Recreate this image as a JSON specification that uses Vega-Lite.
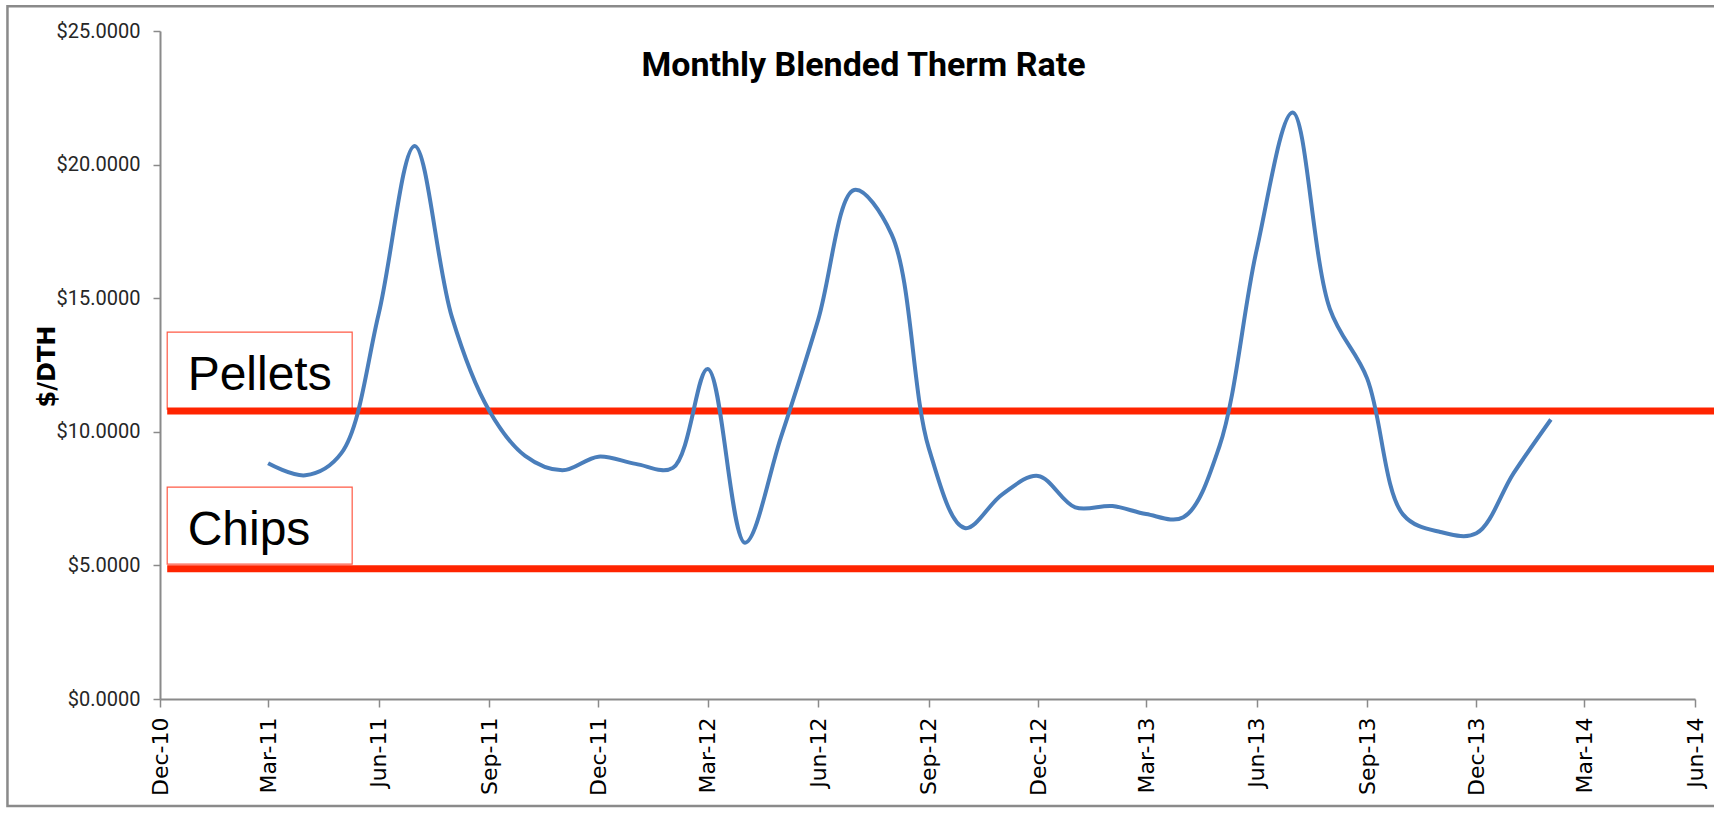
{
  "$schema": "https://vega.github.io/schema/vega-lite/v6.json",
  "width": 1535,
  "height": 668,
  "autosize": {"type": "none"},
  "padding": {"left": 160, "top": 31, "right": 19, "bottom": 116},
  "background": "white",
  "config": {"view": {"stroke": null}, "axis": {"grid": false}},
  "title": {
    "text": "Monthly Blended Therm Rate",
    "font": "Roboto",
    "fontSize": 34,
    "fontWeight": "bold",
    "color": "black",
    "anchor": "middle",
    "frame": "group",
    "dx": -64,
    "dy": 62,
    "offset": -43,
    "baseline": "alphabetic"
  },
  "data": {
    "values": [
      {"month": "2011/03/01", "rate": 8.82},
      {"month": "2011/04/01", "rate": 8.37},
      {"month": "2011/05/01", "rate": 9.2},
      {"month": "2011/06/01", "rate": 14.4},
      {"month": "2011/07/01", "rate": 20.7},
      {"month": "2011/08/01", "rate": 14.3},
      {"month": "2011/09/01", "rate": 10.8},
      {"month": "2011/10/01", "rate": 9.1},
      {"month": "2011/11/01", "rate": 8.56},
      {"month": "2011/12/01", "rate": 9.07},
      {"month": "2012/01/01", "rate": 8.8},
      {"month": "2012/02/01", "rate": 8.65},
      {"month": "2012/03/01", "rate": 12.35},
      {"month": "2012/04/01", "rate": 5.85},
      {"month": "2012/05/01", "rate": 9.8},
      {"month": "2012/06/01", "rate": 14.2},
      {"month": "2012/07/01", "rate": 19.05},
      {"month": "2012/08/01", "rate": 17.4},
      {"month": "2012/09/01", "rate": 9.4},
      {"month": "2012/10/01", "rate": 6.4},
      {"month": "2012/11/01", "rate": 7.65},
      {"month": "2012/12/01", "rate": 8.35},
      {"month": "2013/01/01", "rate": 7.17},
      {"month": "2013/02/01", "rate": 7.22},
      {"month": "2013/03/01", "rate": 6.92},
      {"month": "2013/04/01", "rate": 6.8},
      {"month": "2013/05/01", "rate": 9.45},
      {"month": "2013/06/01", "rate": 16.8},
      {"month": "2013/07/01", "rate": 21.95},
      {"month": "2013/08/01", "rate": 14.6},
      {"month": "2013/09/01", "rate": 12.0},
      {"month": "2013/10/01", "rate": 6.9},
      {"month": "2013/11/01", "rate": 6.25},
      {"month": "2013/12/01", "rate": 6.2},
      {"month": "2014/01/01", "rate": 8.45},
      {"month": "2014/02/01", "rate": 10.46}
    ]
  },
  "layer": [
    {
      "data": {"values": [{}]},
      "mark": {"type": "rect", "fillOpacity": 0, "stroke": "#8a8a8a", "strokeWidth": 2.5},
      "encoding": {
        "x": {"datum": {"year": 2010, "month": 7, "date": 27}, "type": "temporal"},
        "x2": {"datum": {"year": 2014, "month": 9, "date": 1}},
        "y": {"datum": 25.93, "type": "quantitative"},
        "y2": {"datum": -4}
      }
    },
    {
      "data": {"values": [{"label": "Pellets", "top": 13.73, "bottom": 10.85}, {"label": "Chips", "top": 7.93, "bottom": 5.05}]},
      "mark": {"type": "rect", "fillOpacity": 0, "stroke": "#ff5a45", "strokeWidth": 1.2},
      "encoding": {
        "x": {"datum": {"year": 2010, "month": 12, "date": 7}, "type": "temporal"},
        "x2": {"datum": {"year": 2011, "month": 5, "date": 10}},
        "y": {"field": "top", "type": "quantitative"},
        "y2": {"field": "bottom"}
      }
    },
    {
      "data": {"values": [{"label": "Pellets", "level": 10.78}, {"label": "Chips", "level": 4.87}]},
      "mark": {"type": "rule", "color": "#ff2400", "strokeWidth": 7},
      "encoding": {
        "x": {"datum": {"year": 2010, "month": 12, "date": 7}, "type": "temporal"},
        "x2": {"datum": {"year": 2014, "month": 8, "date": 1}},
        "y": {"field": "level", "type": "quantitative"}
      }
    },
    {
      "data": {"values": [{"label": "Pellets", "base": 11.56}, {"label": "Chips", "base": 5.76}]},
      "mark": {"type": "text", "font": "Liberation Sans, Arial, sans-serif", "fontSize": 48, "color": "black", "align": "left", "baseline": "alphabetic"},
      "encoding": {
        "x": {"datum": {"year": 2010, "month": 12, "date": 24}, "type": "temporal"},
        "y": {"field": "base", "type": "quantitative"},
        "text": {"field": "label"}
      }
    },
    {
      "mark": {"type": "line", "color": "#4a7ebb", "strokeWidth": 4, "interpolate": "catmull-rom"},
      "encoding": {
        "x": {
          "field": "month",
          "type": "temporal",
          "title": null,
          "scale": {"domain": [{"year": 2010, "month": 12, "date": 1}, {"year": 2014, "month": 6, "date": 1}]},
          "axis": {
            "values": [
              {"year": 2010, "month": 12, "date": 1},
              {"year": 2011, "month": 3, "date": 1},
              {"year": 2011, "month": 6, "date": 1},
              {"year": 2011, "month": 9, "date": 1},
              {"year": 2011, "month": 12, "date": 1},
              {"year": 2012, "month": 3, "date": 1},
              {"year": 2012, "month": 6, "date": 1},
              {"year": 2012, "month": 9, "date": 1},
              {"year": 2012, "month": 12, "date": 1},
              {"year": 2013, "month": 3, "date": 1},
              {"year": 2013, "month": 6, "date": 1},
              {"year": 2013, "month": 9, "date": 1},
              {"year": 2013, "month": 12, "date": 1},
              {"year": 2014, "month": 3, "date": 1},
              {"year": 2014, "month": 6, "date": 1}
            ],
            "format": "%b-%y",
            "labelAngle": 270,
            "labelFont": "DejaVu Sans",
            "labelFontSize": 22,
            "labelColor": "black",
            "labelPadding": 10,
            "labelFlush": false,
            "labelOverlap": false,
            "labelBound": false,
            "tickSize": 8,
            "tickColor": "#8a8a8a",
            "tickWidth": 1.5,
            "domainColor": "#8a8a8a",
            "domainWidth": 2,
            "grid": false
          }
        },
        "y": {
          "field": "rate",
          "type": "quantitative",
          "title": "$/DTH",
          "scale": {"domain": [0, 25], "nice": false},
          "axis": {
            "values": [0, 5, 10, 15, 20, 25],
            "format": "$.4f",
            "labelFont": "Roboto",
            "labelFontSize": 20,
            "labelColor": "#262626",
            "labelPadding": 13,
            "labelFlush": false,
            "tickSize": 7,
            "tickColor": "#8a8a8a",
            "tickWidth": 1.5,
            "domainColor": "#8a8a8a",
            "domainWidth": 2,
            "titleFont": "DejaVu Sans",
            "titleFontSize": 24,
            "titleFontWeight": "bold",
            "titleColor": "black",
            "titleAngle": 270,
            "titleAlign": "center",
            "titleBaseline": "middle",
            "titleX": -113,
            "titleY": 335,
            "grid": false
          }
        }
      }
    }
  ]
}
